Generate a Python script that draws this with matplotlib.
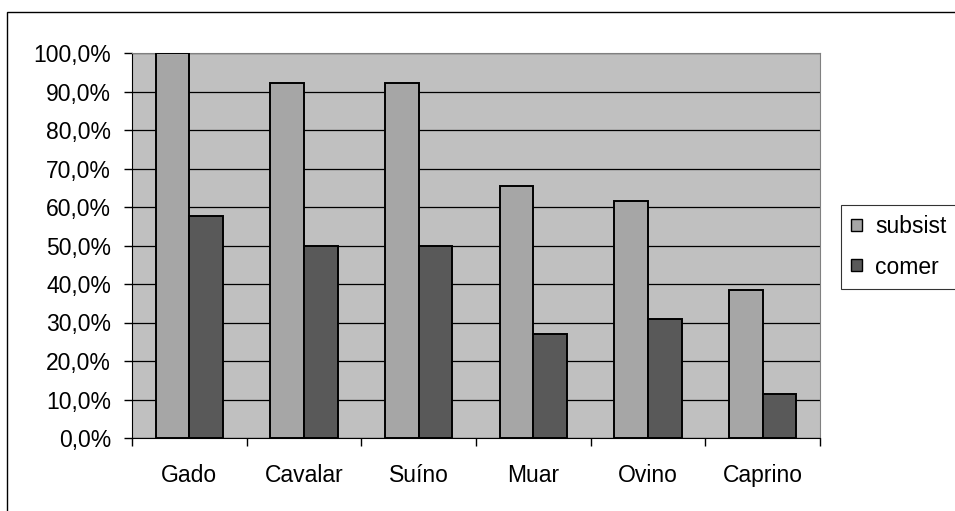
import matplotlib.pyplot as plt
import numpy as np
from matplotlib.patches import Rectangle
from matplotlib.ticker import MultipleLocator, FuncFormatter

# Share of properties raising each kind of livestock
categories = ["Gado", "Cavalar", "Suíno", "Muar", "Ovino", "Caprino"]
subsist = [100.0, 92.3, 92.3, 65.4, 61.5, 38.5]
comer = [57.7, 50.0, 50.0, 26.9, 30.8, 11.5]

plt.rcParams['font.family'] = ['Liberation Sans', 'DejaVu Sans']
plt.rcParams['font.size'] = 16.5

W, H = 955, 511
fig = plt.figure(figsize=(W / 100, H / 100), dpi=100)
fig.patch.set_facecolor("white")

# outer chart frame
fig.patches.append(Rectangle((7 / W, -0.1), 1.2, (H - 12) / H + 0.1,
                             transform=fig.transFigure, fill=False,
                             edgecolor="black", linewidth=1.0))

ax = fig.add_axes([132 / W, 1 - 438 / H, (820 - 132) / W, (438 - 53) / H])
ax.set_facecolor("#C0C0C0")

x = np.arange(len(categories))
bw = 0.295
ax.bar(x - bw / 2, subsist, bw, color="#A6A6A6", edgecolor="black",
       linewidth=1.4, label="subsist", zorder=3)
ax.bar(x + bw / 2, comer, bw, color="#595959", edgecolor="black",
       linewidth=1.4, label="comer", zorder=3)

ax.set_xlim(-0.5, len(categories) - 0.5)
ax.set_ylim(0, 100)
ax.yaxis.set_major_locator(MultipleLocator(10))
ax.yaxis.set_major_formatter(FuncFormatter(lambda v, p: f"{v:.1f}%".replace(".", ",")))
ax.grid(axis="y", color="black", linewidth=0.9, zorder=1)

# ticks on the category boundaries, labels centred
ax.set_xticks(np.arange(len(categories) + 1) - 0.5)
ax.set_xticklabels([])
ax.set_xticks(x, minor=True)
ax.set_xticklabels(categories, minor=True)
ax.tick_params(axis="x", which="minor", length=0, pad=19)
ax.tick_params(axis="x", which="major", length=6, width=1, direction="out")
ax.tick_params(axis="y", length=6, width=1, direction="out", pad=9)

for side in ["top", "right"]:
    ax.spines[side].set_color("#808080")
for side in ["left", "bottom"]:
    ax.spines[side].set_color("black")

leg = ax.legend(loc="upper left", bbox_to_anchor=(841 / W, 1 - 205 / H),
                bbox_transform=fig.transFigure, frameon=True, fancybox=False,
                handlelength=0.45, handleheight=0.45, handletextpad=0.6,
                borderpad=0.45, labelspacing=0.75, borderaxespad=0)
leg.get_frame().set_edgecolor("black")
leg.get_frame().set_linewidth(0.8)
for h in leg.legend_handles:
    h.set_linewidth(1.0)

fig.savefig("out.png", dpi=100)
